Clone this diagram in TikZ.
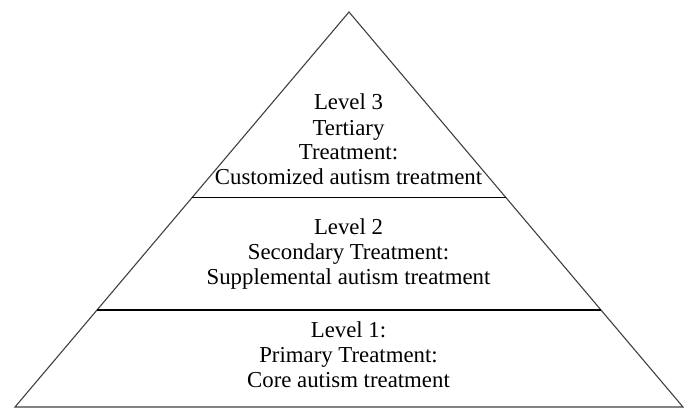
\documentclass[tikz,border=0pt]{standalone}
\usepackage{fontspec}
\setmainfont{Liberation Serif}
\usetikzlibrary{calc}
\begin{document}
\begin{tikzpicture}[x=1pt,y=-1pt,
  edge/.style={draw=black!75,line width=1.1pt},
  divider/.style={draw=black,line width=1.3pt},
  label/.style={align=center,anchor=base,inner sep=0pt,font=\fontsize{22.8}{25}\selectfont}]
\useasboundingbox (0,0) rectangle (691,409);
\coordinate (A) at (349,12);
\coordinate (L) at (15,407);
\coordinate (R) at (683,407);
\coordinate (d1l) at ($(L)!0.5304!(A)$);
\coordinate (d1r) at ($(R)!0.5304!(A)$);
\coordinate (d2l) at ($(L)!0.2456!(A)$);
\coordinate (d2r) at ($(R)!0.2456!(A)$);
\draw[edge,line join=miter] (L) -- (A) -- (R) -- cycle;
\draw[divider] (d1l) -- (d1r);
\draw[divider] (d2l) -- (d2r);
\node[label] (t3) at (348.5,185) {Level 3\\Tertiary\\Treatment:\\Customized autism treatment};
\node[label] (t2) at (348.5,284) {Level 2\\Secondary Treatment:\\Supplemental autism treatment};
\node[label] (t1) at (348.5,387) {Level 1:\\Primary Treatment:\\Core autism treatment};
\end{tikzpicture}
\end{document}
